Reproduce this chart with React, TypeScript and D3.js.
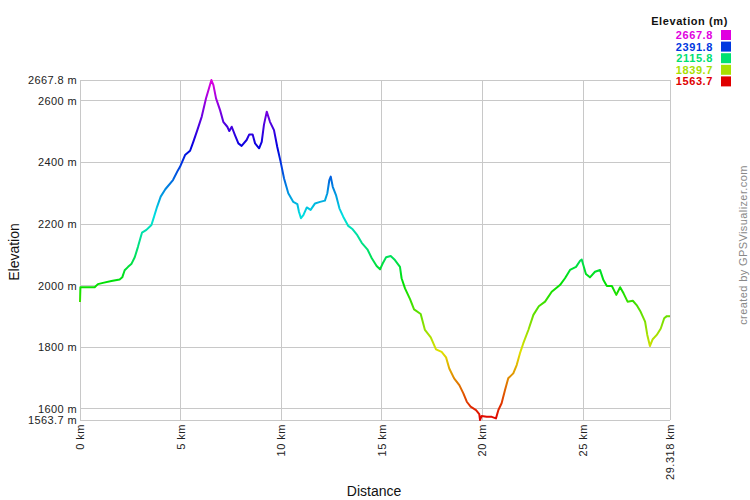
import React, { useEffect, useRef } from 'react';
import * as d3 from 'd3';

// Track profile
const distanceKm = [
  0, 0.02, 0.73, 0.89, 1.14, 1.56, 1.97, 2.1, 2.22, 2.39, 2.55, 2.72, 2.88, 3.0, 3.08, 3.3, 3.55, 3.68, 3.83, 4.01,
  4.24, 4.62, 4.87, 4.97, 5.22, 5.47, 5.63, 5.83, 6.05, 6.26, 6.41, 6.53, 6.63, 6.76, 6.96, 7.12, 7.32, 7.42, 7.54, 7.7,
  7.87, 8.03, 8.28, 8.41, 8.58, 8.7, 8.9, 9.03, 9.14, 9.28, 9.44, 9.64, 9.8, 9.97, 10.14, 10.35, 10.6, 10.8, 10.88, 10.98,
  11.1, 11.27, 11.46, 11.68, 11.93, 12.17, 12.29, 12.39, 12.46, 12.56, 12.72, 12.89, 13.08, 13.33, 13.55, 13.78, 14.0, 14.28, 14.5, 14.74,
  14.91, 15.04, 15.21, 15.44, 15.65, 15.9, 15.98, 16.15, 16.4, 16.6, 16.93, 17.14, 17.43, 17.69, 17.97, 18.19, 18.35, 18.59, 18.85, 19.05,
  19.22, 19.41, 19.68, 19.84, 19.88, 19.96, 20.21, 20.46, 20.67, 20.79, 20.95, 21.12, 21.28, 21.53, 21.7, 21.86, 22.03, 22.28, 22.53, 22.8,
  23.11, 23.44, 23.85, 24.1, 24.35, 24.65, 24.85, 24.93, 25.01, 25.14, 25.34, 25.59, 25.84, 26.01, 26.18, 26.43, 26.65, 26.84, 27.01, 27.21,
  27.47, 27.66, 27.86, 28.08, 28.19, 28.32, 28.46, 28.66, 28.86, 29.03, 29.16, 29.318,
];
const elevationM = [
  1947, 1995, 1995, 2005, 2009, 2015, 2020, 2027, 2050, 2061, 2070, 2092, 2126, 2154, 2172, 2181, 2197, 2224, 2256, 2289,
  2313, 2343, 2375, 2386, 2424, 2438, 2467, 2505, 2549, 2608, 2641, 2667.8, 2651, 2608, 2570, 2532, 2516, 2502, 2516, 2489,
  2462, 2454, 2473, 2491, 2491, 2462, 2446, 2467, 2522, 2565, 2532, 2505, 2451, 2402, 2348, 2300, 2272, 2265, 2240, 2219,
  2229, 2254, 2246, 2267, 2272, 2276, 2300, 2343, 2354, 2321, 2294, 2251, 2224, 2194, 2183, 2164, 2139, 2118, 2089, 2064,
  2053, 2072, 2092, 2096, 2083, 2061, 2024, 1991, 1956, 1923, 1908, 1856, 1832, 1793, 1785, 1767, 1731, 1699, 1677, 1650,
  1623, 1607, 1596, 1583, 1563.7, 1577, 1574, 1574, 1569, 1596, 1618, 1661, 1699, 1715, 1742, 1780, 1813, 1856, 1905, 1933,
  1948, 1980, 2002, 2024, 2051, 2061, 2081, 2085, 2067, 2038, 2027, 2045, 2051, 2018, 1999, 1999, 1970, 1995, 1975, 1948,
  1951, 1937, 1915, 1883, 1840, 1804, 1826, 1840, 1861, 1894, 1901, 1901,
];

const yTicks = [1600, 1800, 2000, 2200, 2400, 2600];
const xTicks = [0, 5, 10, 15, 20, 25];
const legendValues = [2667.8, 2391.8, 2115.8, 1839.7, 1563.7];

const minElev = 1563.7;
const maxElev = 2667.8;
const maxDist = 29.318;

const FONT = '"Liberation Sans", Arial, sans-serif';

const App: React.FC = () => {
  const svgRef = useRef<SVGSVGElement>(null);

  useEffect(() => {
    if (!svgRef.current) return;
    const svg = d3.select(svgRef.current);
    svg.selectAll('*').remove();

    const left = 80, right = 670, top = 80, bottom = 420;
    const x = d3.scaleLinear().domain([0, maxDist]).range([left, right]);
    const y = d3.scaleLinear().domain([minElev, maxElev]).range([bottom, top]);

    // colour runs red -> magenta along the elevation range
    const hue = d3.scaleLinear().domain([minElev, maxElev]).range([0, 300]);
    const colorOf = (e: number) => d3.hsl(hue(e), 1, 0.44).formatHex();

    const grid = svg.append('g').attr('stroke', '#c8c8c8').attr('stroke-width', 1).attr('shape-rendering', 'crispEdges');
    [...yTicks, minElev, maxElev].forEach(v => {
      grid.append('line').attr('x1', left).attr('x2', right).attr('y1', y(v)).attr('y2', y(v));
    });
    [...xTicks, maxDist].forEach(v => {
      grid.append('line').attr('x1', x(v)).attr('x2', x(v)).attr('y1', top).attr('y2', bottom);
    });

    // y labels
    const yLab = svg.append('g').attr('font-family', FONT).attr('font-size', 11)
      .attr('letter-spacing', 0.4).attr('fill', '#222').attr('text-anchor', 'end');
    yTicks.forEach(v => {
      yLab.append('text').attr('x', left - 3).attr('y', y(v) + 4).text(`${v} m`);
    });
    [maxElev, minElev].forEach(v => {
      yLab.append('text').attr('x', left - 3).attr('y', y(v) + 4).text(`${v.toFixed(1)} m`);
    });

    // x labels, rotated
    const xLab = svg.append('g').attr('font-family', FONT).attr('font-size', 11)
      .attr('letter-spacing', 0.5).attr('fill', '#222').attr('text-anchor', 'end');
    [...xTicks, maxDist].forEach(v => {
      xLab.append('text')
        .attr('transform', `translate(${x(v) + 4},${bottom + 4}) rotate(-90)`)
        .text(`${v} km`);
    });

    // axis titles
    svg.append('text')
      .attr('transform', `translate(19,252) rotate(-90)`)
      .attr('text-anchor', 'middle').attr('font-family', FONT).attr('font-size', 14).attr('fill', '#111')
      .text('Elevation');
    svg.append('text')
      .attr('x', 374).attr('y', 496)
      .attr('text-anchor', 'middle').attr('font-family', FONT).attr('font-size', 14).attr('fill', '#111')
      .text('Distance');

    // gradient in user space, vertical along elevation
    const defs = svg.append('defs');
    const grad = defs.append('linearGradient')
      .attr('id', 'elevGrad').attr('gradientUnits', 'userSpaceOnUse')
      .attr('x1', 0).attr('x2', 0).attr('y1', y(minElev)).attr('y2', y(maxElev));
    d3.range(0, 11).forEach(i => {
      const e = minElev + (maxElev - minElev) * (i / 10);
      grad.append('stop').attr('offset', `${i * 10}%`).attr('stop-color', colorOf(e));
    });

    const pts: [number, number][] = distanceKm.map((d, i) => [d, elevationM[i]]);
    const line = d3.line<[number, number]>().x(d => x(d[0])).y(d => y(d[1]));
    svg.append('path')
      .datum(pts)
      .attr('fill', 'none')
      .attr('stroke', 'url(#elevGrad)')
      .attr('stroke-width', 2)
      .attr('stroke-linejoin', 'round')
      .attr('d', line);

    // legend
    const lg = svg.append('g').attr('font-family', FONT).attr('font-weight', 'bold');
    lg.append('text').attr('x', 728).attr('y', 25).attr('text-anchor', 'end').attr('font-size', 11)
      .attr('letter-spacing', 0.6).attr('fill', '#111')
      .text('Elevation (m)');
    legendValues.forEach((v, i) => {
      const cy = 35 + i * 11.6;
      lg.append('text').attr('x', 713).attr('y', cy + 4).attr('text-anchor', 'end').attr('font-size', 11)
        .attr('letter-spacing', 0.6).attr('fill', colorOf(v)).text(v.toFixed(1));
      lg.append('rect').attr('x', 721).attr('y', cy - 5).attr('width', 10).attr('height', 10).attr('fill', colorOf(v));
    });

    // credit
    svg.append('text')
      .attr('transform', `translate(747,245) rotate(-90)`)
      .attr('text-anchor', 'middle').attr('font-family', FONT).attr('font-size', 11)
      .attr('letter-spacing', 0.4).attr('fill', '#888')
      .text('created by GPSVisualizer.com');
  }, []);

  return (
    <svg ref={svgRef} width={750} height={500}
      style={{ position: 'absolute', left: 0, top: 0, background: '#fff' }} />
  );
};

export default App;
